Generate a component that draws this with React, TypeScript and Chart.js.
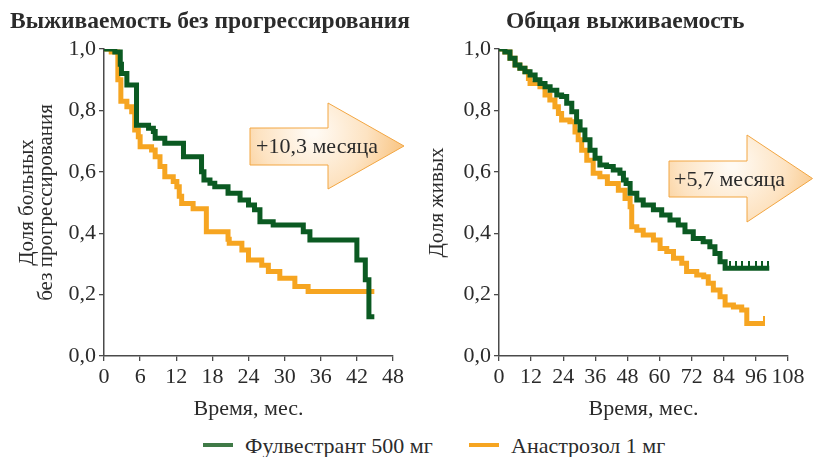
import React, { useEffect, useRef } from 'react';
import { Chart, registerables } from 'chart.js';
Chart.register(...registerables);

const SERIF = '"Liberation Serif", "DejaVu Serif", "Times New Roman", serif';
const GREEN = '#0b5a22';
const ORANGE = '#f6a521';
const AXIS = '#4a4a4a';
const TEXT = '#2b2b2b';

const titlePFS = 'Выживаемость без прогрессирования';
const titleOS = 'Общая выживаемость';
const yTitlePFS = ['Доля больных', 'без прогрессирования'];
const yTitleOS = 'Доля живых';
const xTitle = 'Время, мес.';
const seriesNames = ['Фулвестрант 500 мг', 'Анастрозол 1 мг'];
const arrowPFSLabel = '+10,3 месяца';
const arrowOSLabel = '+5,7 месяца';

const yTickValues = [0, 0.2, 0.4, 0.6, 0.8, 1.0];
const pfsTickValues = [0, 6, 12, 18, 24, 30, 36, 42, 48];
const osTickValues = [0, 12, 24, 36, 48, 60, 72, 84, 96, 108];

// Progression-free survival — fulvestrant (time of drop, level after drop)
const pfsFulvT = [0, 1.8, 2.7, 2.9, 3.8, 5.4, 7.4, 8.2, 8.5, 10.1, 13.2, 16.2, 16.6, 17.6, 18.4, 20.6, 22.6, 24.0, 25.0, 25.9, 28.1, 33.1, 34.2, 42.0, 43.4, 44.0, 44.9];
const pfsFulvS = [1.0, 0.99, 0.95, 0.92, 0.883, 0.752, 0.742, 0.731, 0.709, 0.693, 0.649, 0.60, 0.573, 0.5625, 0.551, 0.53, 0.508, 0.492, 0.476, 0.437, 0.427, 0.405, 0.378, 0.313, 0.248, 0.128, 0.128];
// Progression-free survival — anastrozole
const pfsAnasT = [0, 1.2, 2.3, 2.8, 3.8, 4.6, 5.1, 5.7, 6.0, 7.9, 8.5, 9.3, 10.1, 11.5, 12.1, 12.5, 12.9, 14.8, 17.0, 20.6, 20.8, 22.9, 24.0, 26.2, 27.3, 29.2, 31.7, 33.9, 44.9];
const pfsAnasS = [1.0, 0.99, 0.90, 0.83, 0.812, 0.796, 0.736, 0.714, 0.682, 0.671, 0.649, 0.617, 0.584, 0.568, 0.551, 0.52, 0.497, 0.48, 0.405, 0.38, 0.367, 0.345, 0.313, 0.296, 0.275, 0.253, 0.226, 0.21, 0.21];

// Overall survival — fulvestrant
const osFulvT = [0, 2.2, 4.1, 6.0, 7.8, 9.7, 11.6, 13.5, 15.3, 17.2, 19.1, 21.6, 23.4, 25.3, 27.2, 29.0, 30.3, 32.1, 34.0, 35.9, 37.7, 40.2, 42.7, 45.2, 46.5, 47.5, 49.0, 51.5, 53.9, 57.7, 60.8, 63.9, 67.0, 69.5, 72.6, 76.3, 78.8, 80.7, 82.6, 84.5, 101.0];
const osFulvS = [1.0, 0.99, 0.97, 0.948, 0.937, 0.926, 0.915, 0.90, 0.888, 0.877, 0.866, 0.85, 0.845, 0.823, 0.796, 0.763, 0.736, 0.704, 0.67, 0.644, 0.622, 0.617, 0.606, 0.595, 0.573, 0.562, 0.53, 0.508, 0.492, 0.476, 0.459, 0.443, 0.427, 0.405, 0.383, 0.372, 0.356, 0.334, 0.307, 0.286, 0.286];
const osFulvCensorT = [86.3, 88.6, 90.9, 93.5, 95.9, 98.2, 100.6];
// Overall survival — anastrozole
const osAnasT = [0, 2.2, 4.1, 6.0, 7.8, 9.7, 11.0, 11.6, 15.3, 17.2, 19.0, 20.9, 22.2, 23.4, 26.5, 28.4, 29.6, 30.9, 32.8, 35.2, 37.7, 40.5, 44.6, 47.1, 49.0, 49.6, 51.5, 53.9, 57.7, 60.2, 62.7, 65.2, 68.3, 70.1, 73.9, 76.5, 78.2, 80.1, 82.6, 84.5, 87.6, 90.7, 92.6, 99.4];
const osAnasS = [1.0, 0.99, 0.97, 0.948, 0.937, 0.926, 0.904, 0.888, 0.877, 0.85, 0.834, 0.812, 0.79, 0.769, 0.763, 0.73, 0.704, 0.67, 0.638, 0.595, 0.584, 0.562, 0.54, 0.513, 0.486, 0.421, 0.41, 0.394, 0.378, 0.35, 0.34, 0.318, 0.302, 0.275, 0.264, 0.258, 0.237, 0.215, 0.193, 0.166, 0.16, 0.15, 0.106, 0.106];
const osAnasCensorT = [99.0];

function toPoints(t: number[], s: number[]) {
  return t.map((x, i) => ({ x, y: s[i] }));
}
function levelAt(t: number[], s: number[], when: number) {
  let v = s[0];
  for (let i = 0; i < t.length; i++) if (t[i] <= when) v = s[i];
  return v;
}
function makeTickImage(color: string) {
  const c = document.createElement('canvas');
  c.width = 2;
  c.height = 15;
  const g = c.getContext('2d')!;
  g.fillStyle = color;
  g.fillRect(0, 0, 2, 7);
  return c;
}
const fmt = (v: number) => v.toFixed(1).replace('.', ',');

type ArrowCfg = {
  rectLeft: number; rectTop: number; rectBottom: number;
  headX: number; headTop: number; headBottom: number; tipX: number;
  textX: number; text: string;
};

function arrowPlugin(a: ArrowCfg) {
  return {
    id: 'gainArrow',
    afterDraw(chart: any) {
      const ctx = chart.ctx as CanvasRenderingContext2D;
      const tipY = (a.headTop + a.headBottom) / 2;
      ctx.save();
      ctx.beginPath();
      ctx.moveTo(a.rectLeft, a.rectTop);
      ctx.lineTo(a.headX, a.rectTop);
      ctx.lineTo(a.headX, a.headTop);
      ctx.lineTo(a.tipX, tipY);
      ctx.lineTo(a.headX, a.headBottom);
      ctx.lineTo(a.headX, a.rectBottom);
      ctx.lineTo(a.rectLeft, a.rectBottom);
      ctx.closePath();
      const g = ctx.createRadialGradient(a.headX - 15, a.rectTop + 4, 4, a.headX - 15, a.rectTop + 4, 115);
      g.addColorStop(0, '#fffaf3');
      g.addColorStop(0.45, '#fde3c2');
      g.addColorStop(1, '#f6b25c');
      ctx.fillStyle = g;
      ctx.fill();
      ctx.lineWidth = 1;
      ctx.strokeStyle = '#f2a642';
      ctx.stroke();
      ctx.fillStyle = TEXT;
      ctx.font = `22px ${SERIF}`;
      ctx.textBaseline = 'middle';
      ctx.textAlign = 'left';
      ctx.fillText(a.text, a.textX, (a.rectTop + a.rectBottom) / 2 + 1);
      ctx.restore();
    },
  };
}

type PanelProps = {
  width: number; yAxisWidth: number; rightPad: number; xMax: number; xTicks: number[];
  yTitle: string | string[]; yTitlePad: number;
  fulv: { x: number; y: number }[]; anas: { x: number; y: number }[];
  fulvCensor: { x: number; y: number }[]; anasCensor: { x: number; y: number }[];
  arrow: ArrowCfg;
};

const HEIGHT = 425;

function Panel(p: PanelProps) {
  const ref = useRef<HTMLCanvasElement | null>(null);
  useEffect(() => {
    if (!ref.current) return;
    const greenTick = makeTickImage(GREEN);
    const orangeTick = makeTickImage(ORANGE);
    const lineDs = (data: any, color: string) => ({
      type: 'line' as const,
      data,
      borderColor: color,
      backgroundColor: color,
      borderWidth: 5,
      stepped: true,
      pointRadius: 0,
      fill: false,
      borderCapStyle: 'butt' as const,
      borderJoinStyle: 'miter' as const,
    });
    const censorDs = (data: any, img: HTMLCanvasElement) => ({
      type: 'line' as const,
      data,
      showLine: false,
      pointStyle: img,
      pointRadius: 3,
      borderColor: 'transparent',
      backgroundColor: 'transparent',
    });
    const chart = new Chart(ref.current, {
      type: 'line',
      data: {
        datasets: [
          censorDs(p.fulvCensor, greenTick),
          lineDs(p.fulv, GREEN),
          censorDs(p.anasCensor, orangeTick),
          lineDs(p.anas, ORANGE),
        ] as any,
      },
      options: {
        responsive: false,
        animation: false,
        events: [],
        layout: { padding: { top: 49, right: p.rightPad, left: 0, bottom: 0 } },
        plugins: { legend: { display: false }, tooltip: { enabled: false }, title: { display: false } },
        scales: {
          x: {
            type: 'linear',
            min: 0,
            max: p.xMax,
            afterFit: (s: any) => { s.height = HEIGHT - 356; },
            afterBuildTicks: (s: any) => { s.ticks = p.xTicks.map((v) => ({ value: v })); },
            grid: { display: true, drawOnChartArea: false, drawTicks: true, tickLength: 5, color: AXIS, lineWidth: 1.3 },
            border: { display: true, color: AXIS, width: 1.5 },
            ticks: { color: TEXT, font: { family: SERIF, size: 22 }, padding: 3, maxRotation: 0, autoSkip: false },
            title: { display: true, text: xTitle, color: TEXT, font: { family: SERIF, size: 22, lineHeight: 1.2 }, padding: { top: 0, bottom: 3 } },
          },
          y: {
            type: 'linear',
            min: 0,
            max: 1,
            afterFit: (s: any) => { s.width = p.yAxisWidth; },
            afterBuildTicks: (s: any) => { s.ticks = yTickValues.map((v) => ({ value: v })); },
            grid: { display: true, drawOnChartArea: false, drawTicks: true, tickLength: 5, color: AXIS, lineWidth: 1.3 },
            border: { display: true, color: AXIS, width: 1.5 },
            ticks: { color: TEXT, font: { family: SERIF, size: 22 }, padding: 3, callback: (v: any) => fmt(Number(v)) },
            title: { display: true, text: p.yTitle, color: TEXT, font: { family: SERIF, size: 21, lineHeight: 0.92 }, padding: { top: p.yTitlePad, bottom: 0 } },
          },
        },
      },
      plugins: [arrowPlugin(p.arrow)],
    } as any);
    return () => chart.destroy();
  }, []);
  return <canvas ref={ref} width={p.width} height={HEIGHT} style={{ width: p.width, height: HEIGHT, display: 'block' }} />;
}

export default function App() {
  const fulvCensorOS = osFulvCensorT.map((t) => ({ x: t, y: levelAt(osFulvT, osFulvS, t) }));
  const anasCensorOS = osAnasCensorT.map((t) => ({ x: t, y: levelAt(osAnasT, osAnasS, t) }));
  return (
    <div style={{ position: 'absolute', left: 0, top: 0, width: 813, height: 457, background: '#fff', fontFamily: SERIF, color: TEXT, overflow: 'hidden' }}>
      <div style={{ position: 'absolute', left: 0, top: 0 }}>
        <Panel
          width={410} yAxisWidth={104} rightPad={17} xMax={48} xTicks={pfsTickValues}
          yTitle={yTitlePFS} yTitlePad={18}
          fulv={toPoints(pfsFulvT, pfsFulvS)} anas={toPoints(pfsAnasT, pfsAnasS)}
          fulvCensor={[]} anasCensor={[]}
          arrow={{ rectLeft: 250, rectTop: 128, rectBottom: 165, headX: 328, headTop: 103, headBottom: 189, tipX: 404, textX: 256, text: arrowPFSLabel }}
        />
      </div>
      <div style={{ position: 'absolute', left: 410, top: 0 }}>
        <Panel
          width={403} yAxisWidth={89} rightPad={25} xMax={108} xTicks={osTickValues}
          yTitle={yTitleOS} yTitlePad={18}
          fulv={toPoints(osFulvT, osFulvS)} anas={toPoints(osAnasT, osAnasS)}
          fulvCensor={fulvCensorOS} anasCensor={anasCensorOS}
          arrow={{ rectLeft: 259, rectTop: 161, rectBottom: 197, headX: 337, headTop: 135, headBottom: 222, tipX: 402.5, textX: 264, text: arrowOSLabel }}
        />
      </div>
      <div style={{ position: 'absolute', left: 10, top: 9, fontSize: 23.5, fontWeight: 'bold', lineHeight: 1, whiteSpace: 'nowrap' }}>{titlePFS}</div>
      <div style={{ position: 'absolute', left: 506, top: 9, fontSize: 23.5, fontWeight: 'bold', lineHeight: 1, whiteSpace: 'nowrap' }}>{titleOS}</div>
      <div style={{ position: 'absolute', left: 203, top: 443, width: 30, height: 4, background: '#3f7a47' }} />
      <div style={{ position: 'absolute', left: 245, top: 435, fontSize: 22, lineHeight: 1, whiteSpace: 'nowrap' }}>{seriesNames[0]}</div>
      <div style={{ position: 'absolute', left: 469, top: 443, width: 30, height: 4, background: ORANGE }} />
      <div style={{ position: 'absolute', left: 511, top: 435, fontSize: 22, lineHeight: 1, whiteSpace: 'nowrap' }}>{seriesNames[1]}</div>
    </div>
  );
}
